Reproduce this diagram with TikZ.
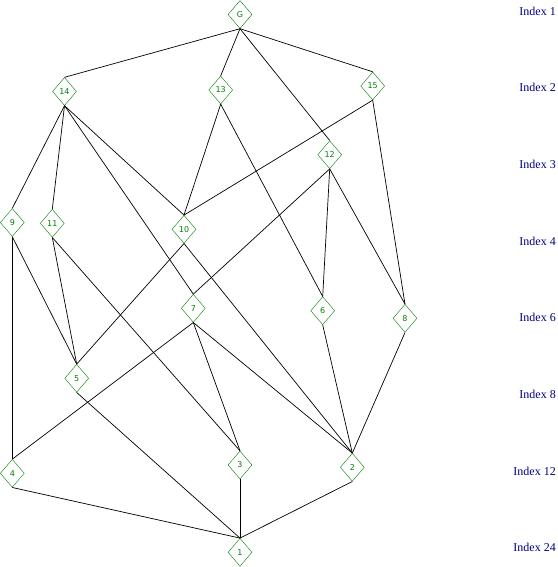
\documentclass[tikz,border=0pt]{standalone}
\usepackage{fontspec}
\setmainfont{Liberation Serif}
\newfontfamily\labelfont{DejaVu Sans}
\usetikzlibrary{shapes.geometric}
\definecolor{subgreen}{RGB}{0,128,0}
\definecolor{indexblue}{RGB}{0,0,128}
\tikzset{
  subgroup/.style={diamond, draw=subgreen, fill=white, text=subgreen,
    inner sep=0pt, aspect=0.86, minimum width=24pt, minimum height=28pt,
    font=\labelfont\fontsize{8}{8}\selectfont},
  indexlabel/.style={anchor=east, text=indexblue, inner sep=0pt,
    font=\fontsize{12}{12}\selectfont},
  inclusion/.style={draw=black, line width=0.7pt}
}

\begin{document}
\begin{tikzpicture}[x=1pt,y=-1pt]
    \useasboundingbox (0,0) rectangle (557,567);

    % The whole group
    \node[subgroup] (g) at (240,14.5) {G};

    % Index 2 and 3
    \node[subgroup] (s14) at (64.5,91.5) {14};
    \node[subgroup] (s13) at (220.7,90) {13};
    \node[subgroup] (s15) at (372.7,86) {15};
    \node[subgroup] (s12) at (329.7,154.7) {12};

    % Index 4 and 6
    \node[subgroup] (s9) at (12.3,222.5) {9};
    \node[subgroup] (s11) at (52.3,223.3) {11};
    \node[subgroup] (s10) at (184,229.3) {10};
    \node[subgroup] (s7) at (193.3,308.3) {7};
    \node[subgroup] (s6) at (322.7,310.7) {6};
    \node[subgroup] (s8) at (405,318.3) {8};

    % Index 8, 12 and 24
    \node[subgroup] (s5) at (76.7,378.3) {5};
    \node[subgroup] (s4) at (12.3,473.3) {4};
    \node[subgroup] (s3) at (240,465) {3};
    \node[subgroup] (s2) at (352.3,467.3) {2};
    \node[subgroup] (s1) at (240,552.3) {1};

    % The index column
    \node[indexlabel] (idx1) at (556,11) {Index 1};
    \node[indexlabel] (idx2) at (556,87.5) {Index 2};
    \node[indexlabel] (idx3) at (556,164) {Index 3};
    \node[indexlabel] (idx4) at (556,241) {Index 4};
    \node[indexlabel] (idx6) at (556,317.5) {Index 6};
    \node[indexlabel] (idx8) at (556,394) {Index 8};
    \node[indexlabel] (idx12) at (556,471) {Index 12};
    \node[indexlabel] (idx24) at (556,547.5) {Index 24};

    % Inclusions below G
    \draw[inclusion] (g.south) -- (s14.north);
    \draw[inclusion] (g.south) -- (s13.north);
    \draw[inclusion] (g.south) -- (s15.north);
    \draw[inclusion] (g.south) -- (s12.north);

    % Inclusions below index 2 and 3
    \draw[inclusion] (s14.south) -- (s9.north);
    \draw[inclusion] (s14.south) -- (s11.north);
    \draw[inclusion] (s14.south) -- (s7.north);
    \draw[inclusion] (s14.south) -- (s10.north);
    \draw[inclusion] (s13.south) -- (s10.north);
    \draw[inclusion] (s13.south) -- (s6.north);
    \draw[inclusion] (s15.south) -- (s10.north);
    \draw[inclusion] (s15.south) -- (s8.north);
    \draw[inclusion] (s12.south) -- (s7.north);
    \draw[inclusion] (s12.south) -- (s6.north);
    \draw[inclusion] (s12.south) -- (s8.north);

    % Inclusions below index 4 and 6
    \draw[inclusion] (s9.south) -- (s4.north);
    \draw[inclusion] (s9.south) -- (s5.north);
    \draw[inclusion] (s11.south) -- (s5.north);
    \draw[inclusion] (s11.south) -- (s3.north);
    \draw[inclusion] (s10.south) -- (s5.north);
    \draw[inclusion] (s10.south) -- (s2.north);
    \draw[inclusion] (s7.south) -- (s4.north);
    \draw[inclusion] (s7.south) -- (s3.north);
    \draw[inclusion] (s7.south) -- (s2.north);
    \draw[inclusion] (s6.south) -- (s2.north);
    \draw[inclusion] (s8.south) -- (s2.north);

    % Down to the trivial subgroup
    \draw[inclusion] (s5.south) -- (s1.north);
    \draw[inclusion] (s4.south) -- (s1.north);
    \draw[inclusion] (s3.south) -- (s1.north);
    \draw[inclusion] (s2.south) -- (s1.north);
\end{tikzpicture}
\end{document}
